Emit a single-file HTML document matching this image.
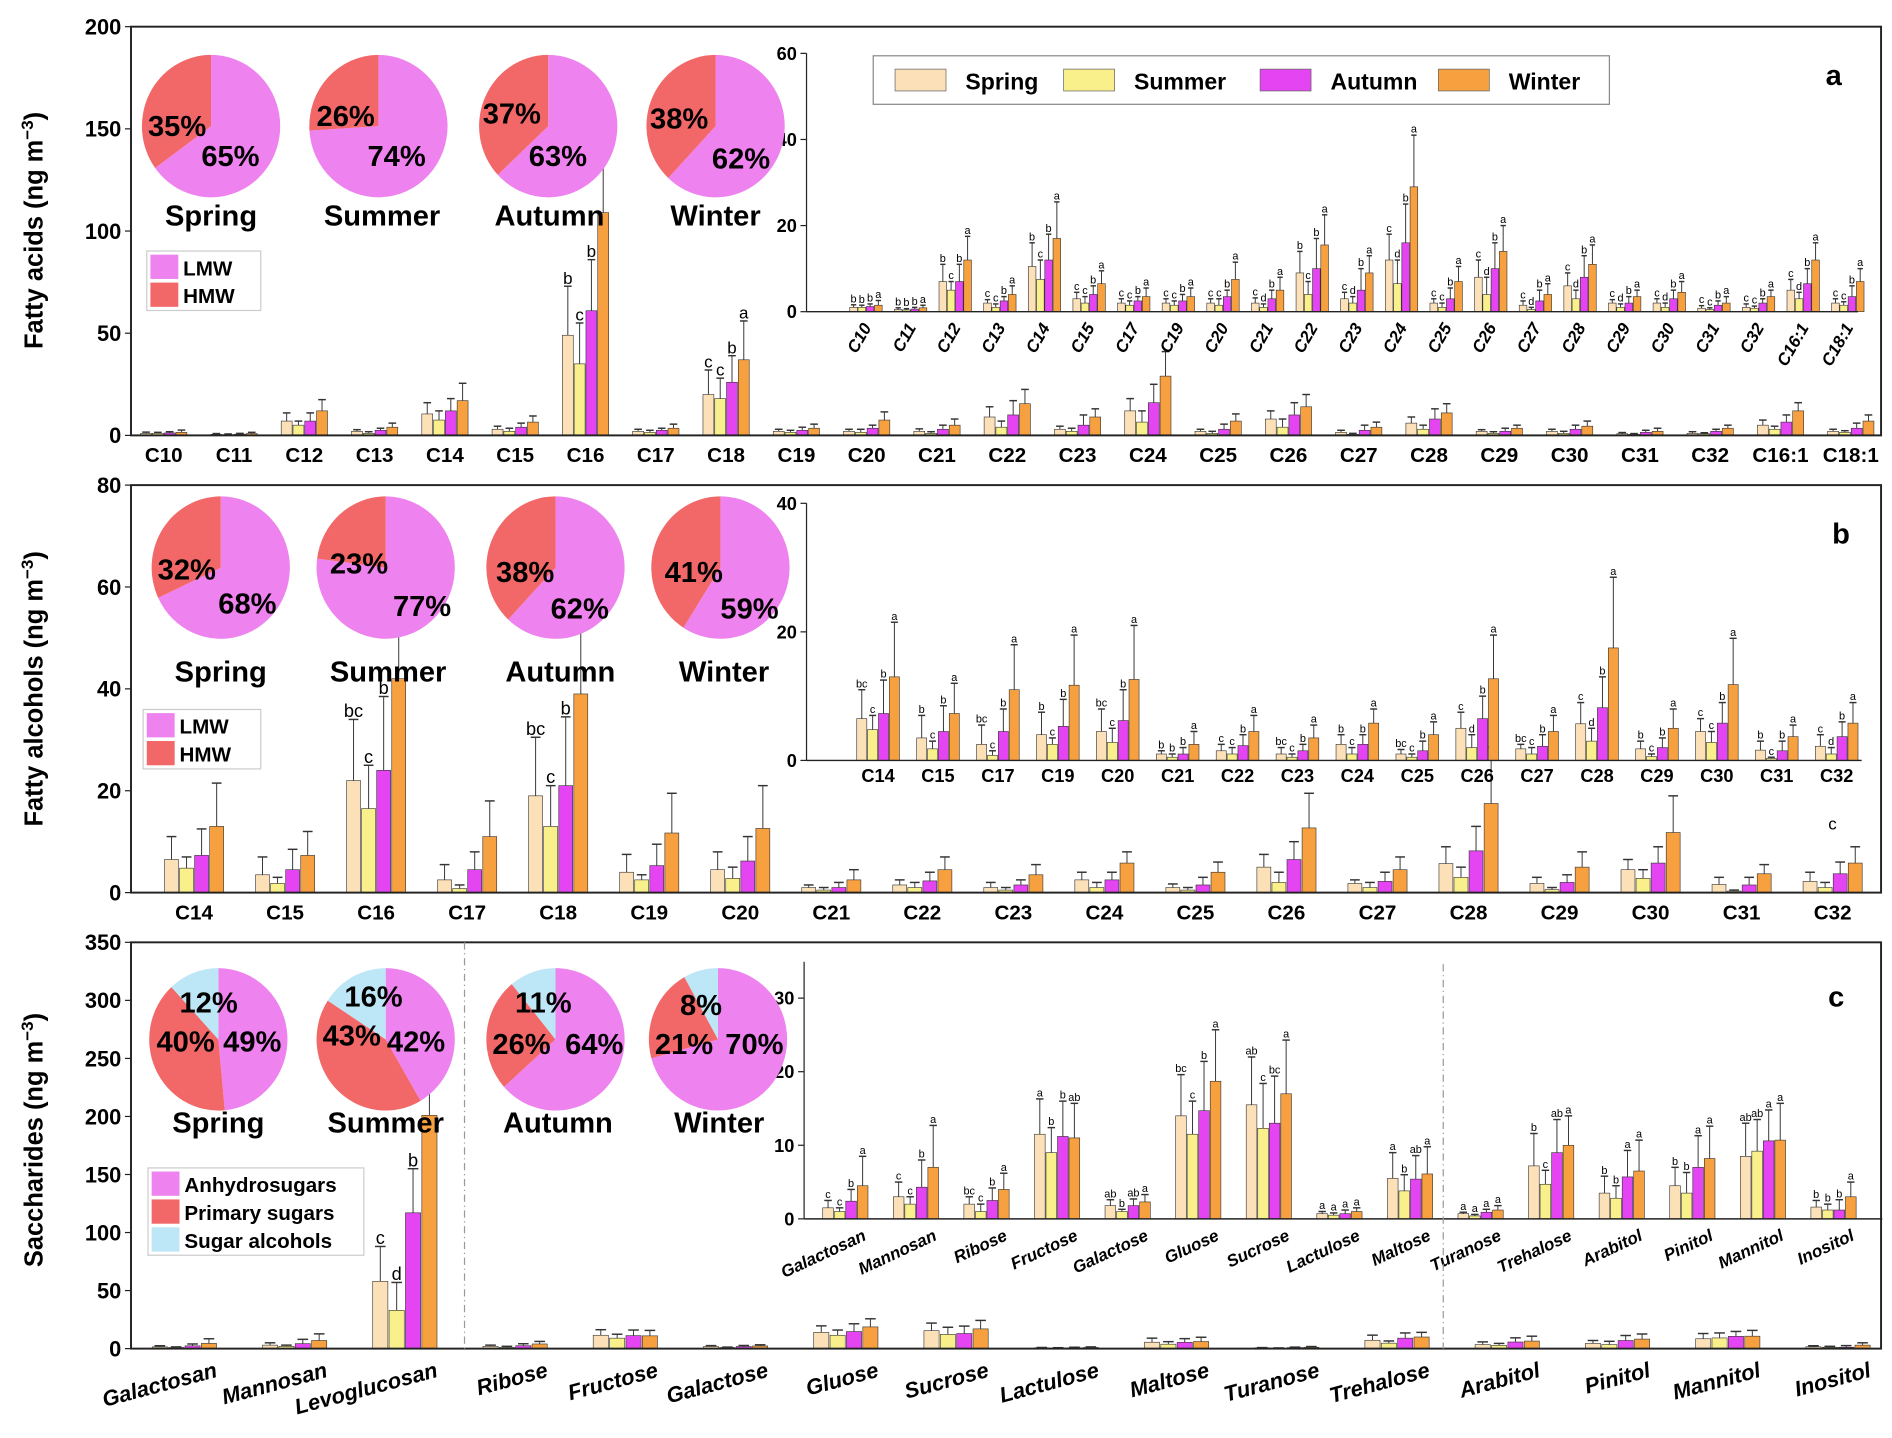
<!DOCTYPE html>
<html><head><meta charset="utf-8"><style>
html,body{margin:0;padding:0;background:#fff}
svg{display:block}
text{font-family:"Liberation Sans Narrow","Liberation Sans",sans-serif;font-weight:bold;fill:#000}
.reg{font-family:"Liberation Sans",sans-serif}
.nb{font-weight:normal}
</style></head><body>
<svg id="chart" xmlns="http://www.w3.org/2000/svg" width="1892" height="1438" viewBox="0 0 1560 1185.7"></svg>
<script>
// ---------- Panel a: fatty acids ----------
const faCats=["C10","C11","C12","C13","C14","C15","C16","C17","C18","C19","C20","C21","C22","C23","C24","C25","C26","C27","C28","C29","C30","C31","C32","C16:1","C18:1"];
const faSpring=[1,0.5,7,2,10.5,3,49,2,20,2,2,2,9,3,12,2,8,1.5,6,2,2,0.8,1,5,2];
const faSummer=[1,0.4,5,1,7.5,2,35,1.5,18,1.5,1.5,1,4,2,6.5,1,4,0.5,3,1,1,0.5,0.8,3,1.5];
const faAutumn=[1.2,0.6,7,2.5,12,4,61,2.5,26,2.5,3.5,3,10,5,16,3,10,2.5,8,2,3,1.5,2,6.5,3.5];
const faWinter=[1.5,0.9,12,4,17,6.5,109,3.5,37,3.5,7.5,5,15.5,9,29,7,14,4,11,3.5,4.5,2,3.5,12,7];
const faUpSpring=[1.6,0.9,11,2.8,16,4.5,73,3,32,3,3,3.2,14,4.5,18,3,12,2.5,9,2.8,3,1.4,1.8,7.5,3];
const faUpSummer=[1.5,0.7,7,1.8,12,3.5,55,2.5,28,2.5,3,1.8,7,3.5,12,2,8,1,5,1.8,2,0.9,1.3,4.5,2.3];
const faUpAutumn=[1.8,1,11,3.5,18,6,86,3.5,39,4,5,5,17,10,25,5.5,16,5,13,3.5,5,2.5,3,10,6];
const faUpWinter=[2.6,1.5,17.5,6,25.5,9.5,160,5.5,56,5.5,11.5,8,22.5,13,41,10.5,20,6.5,15.5,5,7,3.5,5,16,10];
const faLetters=[["b","b","b","a"],["b","b","b","a"],["b","c","b","a"],["c","c","b","a"],["b","c","b","a"],["c","c","b","a"],["b","c","b","a"],["c","c","b","a"],["c","c","b","a"],["c","c","b","a"],["c","c","b","a"],["c","d","b","a"],["b","c","b","a"],["c","d","b","a"],["c","d","b","a"],["c","c","b","a"],["c","d","b","a"],["c","d","b","a"],["c","d","b","a"],["c","d","b","a"],["c","d","b","a"],["c","c","b","a"],["c","c","b","a"],["c","d","b","a"],["c","c","b","a"]];
const faYTicks=[0,50,100,150,200];
const faInsetYTicks=[0,20,40,60];
// ---------- Panel b: fatty alcohols ----------
const alCats=["C14","C15","C16","C17","C18","C19","C20","C21","C22","C23","C24","C25","C26","C27","C28","C29","C30","C31","C32"];
const alSpring=[6.5,3.5,22,2.5,19,4,4.5,1,1.5,1,2.5,1,5,1.8,5.7,1.8,4.5,1.6,2.2];
const alSummer=[4.8,1.8,16.5,0.8,13,2.5,2.8,0.5,1,0.5,1,0.5,2,1,3,0.6,2.8,0.3,1];
const alAutumn=[7.3,4.5,24,4.5,21,5.3,6.2,1,2.3,1.5,2.5,1.5,6.5,2.2,8.2,2,5.8,1.5,3.7];
const alWinter=[13,7.3,42,11,39,11.7,12.6,2.5,4.5,3.5,5.8,4,12.7,4.5,17.5,5,11.8,3.7,5.8];
const alUpSpring=[11,7,34,5.5,30.5,7.5,8,1.5,2.5,2,4,1.7,7.5,2.5,9,3,6.5,3,4];
const alUpSummer=[7,3,25,1.5,21,3.5,5,1,2,1,2,1,4,2,5,1,4.5,0.5,2];
const alUpAutumn=[12.5,8.5,38.5,8,34.5,9.5,11,2,4,2.5,4,3,10,4,13,3.5,9,3,6];
const alUpWinter=[21.5,12,71,18,67,19.5,21,4.5,7,5.5,8,6,19.5,7,28.5,8,19,5.5,9];
const alLetters=[["bc","c","b","a"],["b","c","b","a"],["bc","c","b","a"],["bc","c","b","a"],["bc","c","b","a"],["b","c","b","a"],["bc","c","b","a"],["b","b","b","a"],["c","c","b","a"],["bc","c","b","a"],["b","c","b","a"],["bc","c","b","a"],["c","d","b","a"],["bc","c","b","a"],["c","d","b","a"],["b","c","b","a"],["c","c","b","a"],["b","c","b","a"],["c","d","b","a"]];
const alYTicks=[0,20,40,60,80];
const alInsetYTicks=[0,20,40];
// ---------- Panel c: saccharides ----------
const saCats=["Galactosan","Mannosan","Levoglucosan","Ribose","Fructose","Galactose","Gluose","Sucrose","Lactulose","Maltose","Turanose","Trehalose","Arabitol","Pinitol","Mannitol","Inositol"];
const saSpring=[1.5,3,58,2,11.5,1.8,14,15.5,0.7,5.5,0.7,7.2,3.5,4.5,8.5,1.6];
const saSummer=[1,2,33,1,9,1,11.5,12.3,0.5,3.8,0.4,4.7,2.8,3.5,9.2,1.2];
const saAutumn=[2.4,4.3,117,2.5,11.2,1.8,14.7,13,0.7,5.4,0.9,9,5.7,7,10.6,1.2];
const saWinter=[4.5,7,201,4,11,2.3,18.7,17,1,6.1,1.2,10,6.5,8.2,10.7,3];
const saUpSpring=[2.5,5,88,3,16.3,2.6,19.6,22,1,9,0.9,11.6,5.8,7,13,2.5];
const saUpSummer=[1.5,3,57,2,12.4,1.3,16,18.4,0.8,6,0.6,6.6,4.5,6.3,13.5,2];
const saUpAutumn=[4,8,155,4.2,16,2.7,21.4,19.4,1.2,8.6,1.3,13.5,9.3,11.3,14.8,2.6];
const saUpWinter=[8.5,12.7,275,6.2,15.7,3.3,25.7,24.3,1.5,9.8,1.8,14,10.7,12.6,15.7,5];
const saLetters=[["c","c","b","a"],["c","c","b","a"],["c","d","b","a"],["bc","c","b","a"],["a","b","b","ab"],["ab","b","ab","a"],["bc","c","b","a"],["ab","c","bc","a"],["a","a","a","a"],["a","b","ab","a"],["a","a","a","a"],["b","c","ab","a"],["b","b","a","a"],["b","b","a","a"],["ab","ab","a","a"],["b","b","b","a"]];
const saYTicks=[0,50,100,150,200,250,300,350];
const saInsetYTicks=[0,10,20,30];
// ---------- Pies ----------
const seasons=["Spring","Summer","Autumn","Winter"];
const faLMW=[65,74,63,62], faHMW=[35,26,37,38];
const alLMW=[68,77,62,59], alHMW=[32,23,38,41];
const saAnhydro=[49,42,64,70], saPrimary=[40,43,26,21], saAlcohol=[12,16,11,8];

const COLORS=["#FCE0B8","#F9F08C","#E444F2","#F7A040"];
const NS="http://www.w3.org/2000/svg";
const svg=document.getElementById("chart");
function el(tag,attrs,parent){const e=document.createElementNS(NS,tag);for(const k in attrs)e.setAttribute(k,attrs[k]);(parent||svg).appendChild(e);return e;}
function txt(s,x,y,size,parent,anchor,extra){const t=el("text",Object.assign({x:x,y:y,"font-size":size,"text-anchor":anchor||"middle"},extra||{}),parent);t.textContent=s;return t;}

function drawBars(o){
  const g=el("g",{});
  
  
  const ys=v=>o.y0-v*(o.y0-o.yTop)/o.yMax;
  const xs=i=>o.x0+i*o.step;
  const series=[o.s1,o.s2,o.s3,o.s4], ups=[o.u1,o.u2,o.u3,o.u4];
  o.idx.forEach((ci,k)=>{
    const cx=xs(k);
    for(let s=0;s<4;s++){
      const v=series[s][ci], bx=cx+(s-2)*o.bw*1.08+o.bw*0.04;
      const r=el("rect",{x:bx,y:ys(v),width:o.bw,height:Math.max(0,o.y0-ys(v)),fill:COLORS[s],stroke:"#333","stroke-width":0.5},g);
      
      
      const mx=bx+o.bw/2, ut=ys(ups[s][ci]);
      el("line",{x1:mx,x2:mx,y1:ys(v),y2:ut,stroke:"#333","stroke-width":0.8},g);
      el("line",{x1:mx-o.bw*0.35,x2:mx+o.bw*0.35,y1:ut,y2:ut,stroke:"#333","stroke-width":1.2},g);
      if(o.letters&&(!o.letterOnly||o.letterOnly.includes(o.cats[ci]))){
        const lt=txt(o.letters[ci][s],mx,ut-2,o.lfs,g,"middle",{class:"reg nb"});
        
        
      }
    }
  });
  const ax=el("g",{});
  
  
  if(o.frame){el("rect",{x:o.ax,y:o.yTop,width:o.ax2-o.ax,height:o.y0-o.yTop,fill:"none",stroke:"#222","stroke-width":1.6},ax);}
  else{el("line",{x1:o.ax,x2:o.ax,y1:o.yTop-(o.extraTop||0),y2:o.y0,stroke:"#222","stroke-width":1},ax);el("line",{x1:o.ax,x2:o.ax2,y1:o.y0,y2:o.y0,stroke:"#222","stroke-width":1.2},ax);}
  o.ticks.forEach(t=>{const y=ys(t);el("line",{x1:o.ax-5,x2:o.ax,y1:y,y2:y,stroke:"#222","stroke-width":1},ax);
    const tl=txt(String(t),o.ax-8,y+o.tfs*0.36,o.tfs,ax,"end");
    
    });
  o.idx.forEach((ci,k)=>{const cx=xs(k);
    let t;
    if(o.rot){t=txt(o.cats[ci],cx+o.lx,o.ly,o.xfs,ax,"end",{transform:`rotate(${o.rot} ${cx+o.lx} ${o.ly})`,"font-style":"italic"});}
    else t=txt(o.cats[ci],cx,o.ly,o.xfs,ax,"middle");
    
    });
}

function drawPie(cx,cy,r,vals,cols,labels,name){
  const g=el("g",{});
  
  
  const tot=vals.reduce((a,b)=>a+b,0);let a0=0;
  vals.forEach((v,i)=>{const a1=a0+v/tot*2*Math.PI;
    const x0=cx+r*Math.sin(a0),y0=cy-r*1.03*Math.cos(a0),x1=cx+r*Math.sin(a1),y1=cy-r*1.03*Math.cos(a1);
    const p=el("path",{d:`M${cx},${cy}L${x0},${y0}A${r},${r*1.03} 0 ${a1-a0>Math.PI?1:0} 1 ${x1},${y1}Z`,fill:cols[i]},g);
    
    
    a0=a1;});
  labels.forEach(l=>{const t=txt(l[0],cx+l[1],cy+l[2],24,g,"middle");
    
    });
}
function drawLegend(x,y,w,items,name){
  const g=el("g",{});
  
  
  el("rect",{x:x,y:y,width:w,height:items.length*23+3,fill:"#fff",stroke:"#ccc"},g);
  items.forEach((it,i)=>{el("rect",{x:x+3,y:y+3+i*23,width:23,height:20,fill:it[1]},g);
    const t=txt(it[0],x+30,y+20+i*23,17,g,"start");
    
    });
}
function ytitle(s,x,y,name){const t=el("text",{x:x,y:y,"font-size":21,"text-anchor":"middle",transform:`rotate(-90 ${x} ${y})`,class:"reg"});
  t.appendChild(document.createTextNode(s+" (ng m"));
  const sp=el("tspan",{dy:-8,"font-size":14},t);sp.textContent="−3";
  const sp2=el("tspan",{dy:8},t);sp2.textContent=")";
  
  }
function seasonLabels(xs,y,pre){xs.forEach((x,i)=>{const t=txt(seasons[i],x,y,24,svg,"middle");
  
  });}
function panelLetter(s,x,y){const t=txt(s,x,y,24,svg,"middle",{class:"reg"});
  
  }

const LMWc="#EE82EE",HMWc="#F26868",SAc="#BDE6F7";
const all=(n)=>Array.from({length:n},(_,i)=>i);
// ---- Panel a ----
drawBars({name:"fatty-acids",cats:faCats,idx:all(25),s1:faSpring,s2:faSummer,s3:faAutumn,s4:faWinter,u1:faUpSpring,u2:faUpSummer,u3:faUpAutumn,u4:faUpWinter,
 x0:135,step:57.96,bw:9,y0:359,yTop:22,yMax:200,ax:108,ax2:1551,frame:true,ticks:faYTicks,tfs:18,xfs:17,ly:381,
 letters:faLetters,letterOnly:["C16","C18"],lfs:14});
const faIn=all(25).filter(i=>faCats[i]!=="C16"&&faCats[i]!=="C18");
drawBars({name:"fatty-acids-inset",cats:faCats,idx:faIn,s1:faSpring,s2:faSummer,s3:faAutumn,s4:faWinter,u1:faUpSpring,u2:faUpSummer,u3:faUpAutumn,u4:faUpWinter,
 x0:714,step:36.8,bw:6.3,y0:257,yTop:44,yMax:60,ax:665,ax2:1532,frame:false,ticks:faInsetYTicks,tfs:15,xfs:14,ly:270,lx:5,rot:-60,
 letters:faLetters,lfs:9});
ytitle("Fatty acids",35,190,"y-axis-title-fatty-acids");
[[174,"35%",-28,8,"65%",16,33],[312,"26%",-27,0,"74%",15,33],[452,"37%",-30,-2,"63%",8,33],[590,"38%",-30,2,"62%",21,35]].forEach((p,i)=>{
 drawPie(p[0],104,57,[faLMW[i],faHMW[i]],[LMWc,HMWc],[[p[1],p[2],p[3]],[p[4],p[5],p[6]]],"pie-fatty-acids-"+seasons[i].toLowerCase());});
seasonLabels([174,315,453,590],186,"fa");
drawLegend(121,207,94,[["LMW",LMWc],["HMW",HMWc]],"legend-fatty-acids-pie");
(function(){const g=el("g",{});
 el("rect",{x:720,y:46,width:607,height:40,fill:"#fff",stroke:"#888"},g);
 [[738,"Spring"],[877,"Summer"],[1039,"Autumn"],[1186,"Winter"]].forEach((e,i)=>{el("rect",{x:e[0],y:57,width:42,height:18,fill:COLORS[i],stroke:"#666","stroke-width":0.6},g);
  const t=txt(e[1],e[0]+58,74,19,g,"start",{class:"reg"});});})();
panelLetter("a",1512,70);

// ---- Panel b ----
drawBars({name:"fatty-alcohols",cats:alCats,idx:all(19),s1:alSpring,s2:alSummer,s3:alAutumn,s4:alWinter,u1:alUpSpring,u2:alUpSummer,u3:alUpAutumn,u4:alUpWinter,
 x0:160,step:75.06,bw:11.5,y0:736,yTop:400,yMax:80,ax:108,ax2:1551,frame:true,ticks:alYTicks,tfs:18,xfs:17,ly:758,
 letters:alLetters,letterOnly:["C16","C18"],lfs:15});
const alIn=all(19).filter(i=>alCats[i]!=="C16"&&alCats[i]!=="C18");
drawBars({name:"fatty-alcohols-inset",cats:alCats,idx:alIn,s1:alSpring,s2:alSummer,s3:alAutumn,s4:alWinter,u1:alUpSpring,u2:alUpSummer,u3:alUpAutumn,u4:alUpWinter,
 x0:724,step:49.4,bw:8.3,y0:627,yTop:415,yMax:40,ax:665,ax2:1535,frame:false,ticks:alInsetYTicks,tfs:15,xfs:15,ly:645,
 letters:alLetters,lfs:9});
ytitle("Fatty alcohols",35,568,"y-axis-title-fatty-alcohols");
[[182,"32%",-28,10,"68%",22,38],[318,"23%",-22,5,"77%",30,40],[458,"38%",-25,12,"62%",20,42],[594,"41%",-22,12,"59%",24,42]].forEach((p,i)=>{
 drawPie(p[0],468,57,[alLMW[i],alHMW[i]],[LMWc,HMWc],[[p[1],p[2],p[3]],[p[4],p[5],p[6]]],"pie-fatty-alcohols-"+seasons[i].toLowerCase());});
seasonLabels([182,320,462,597],562,"al");
drawLegend(118,585,97,[["LMW",LMWc],["HMW",HMWc]],"legend-fatty-alcohols-pie");
panelLetter("b",1518,448);
(function(){const t=txt("c",1511,684,14,svg,"middle",{class:"reg nb"});})();

// ---- Panel c ----
drawBars({name:"saccharides",cats:saCats,idx:all(16),s1:saSpring,s2:saSummer,s3:saAutumn,s4:saWinter,u1:saUpSpring,u2:saUpSummer,u3:saUpAutumn,u4:saUpWinter,
 x0:152,step:90.9,bw:12.5,y0:1112,yTop:777,yMax:350,ax:108,ax2:1551,frame:true,ticks:saYTicks,tfs:18,xfs:18,ly:1135,lx:28,rot:-15,
 letters:saLetters,letterOnly:["Levoglucosan"],lfs:15});
const saIn=all(16).filter(i=>saCats[i]!=="Levoglucosan");
drawBars({name:"saccharides-inset",cats:saCats,idx:saIn,s1:saSpring,s2:saSummer,s3:saAutumn,s4:saWinter,u1:saUpSpring,u2:saUpSummer,u3:saUpAutumn,u4:saUpWinter,
 x0:697,step:58.2,bw:8.8,y0:1005,yTop:823,yMax:30,ax:663,ax2:1552,frame:false,extraTop:30,ticks:saInsetYTicks,tfs:15,xfs:14,ly:1022,lx:18,rot:-25,
 letters:saLetters,lfs:9});
[[383,777,1112],[1190,795,1112]].forEach(d=>{const l=el("line",{x1:d[0],x2:d[0],y1:d[1],y2:d[2],stroke:"#999","stroke-dasharray":"6,3,1,3","stroke-width":1});
 });
ytitle("Saccharides",35,940,"y-axis-title-saccharides");
[[180,["49%",28,10],["40%",-27,10],["12%",-8,-22]],[318,["42%",25,10],["43%",-28,5],["16%",-10,-27]],[458,["64%",32,12],["26%",-28,12],["11%",-10,-22]],[592,["70%",30,12],["21%",-28,12],["8%",-14,-20]]].forEach((p,i)=>{
 drawPie(p[0],857,57,[saAnhydro[i],saPrimary[i],saAlcohol[i]],[LMWc,HMWc,SAc],[p[1],p[2],p[3]],"pie-saccharides-"+seasons[i].toLowerCase());});
seasonLabels([180,318,460,593],934,"sa");
drawLegend(122,963,178,[["Anhydrosugars",LMWc],["Primary sugars",HMWc],["Sugar alcohols",SAc]],"legend-saccharides-pie");
panelLetter("c",1514,830);
</script>
</body></html>
